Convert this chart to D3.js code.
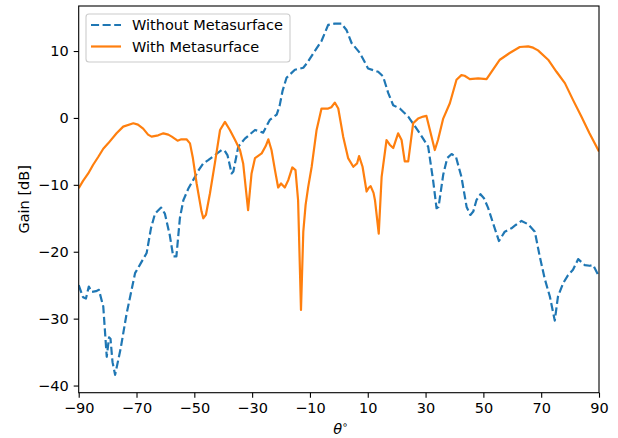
<!DOCTYPE html>
<html>
<head>
<meta charset="utf-8">
<script src="https://cdn.jsdelivr.net/npm/d3@7"></script>
<style>
  body { margin: 0; background: #fff; }
  svg { display: block; font-family: "DejaVu Sans", sans-serif; }
</style>
</head>
<body>
<svg id="chart" width="618" height="438"></svg>
<script>
// gain patterns (theta in degrees, gain in dB)
var withoutTheta = [-90, -88.5, -87.5, -86.5, -85.5, -84, -83, -81.5, -80.3, -79.5, -79, -78.3, -77.4, -75.5, -73.4,
  -70.5, -68.5, -66.5, -65, -63.6, -61.5, -60.2, -58.5, -57.3, -56.2, -55, -53.8, -52, -50.4, -48.5, -46.9,
  -45.2, -43, -40.6, -39.5, -38.5, -37.1, -36.5, -34.8, -32.5, -29, -27.5, -26.2, -25, -23.9, -21.5, -20.5,
  -19.5, -18.1, -16.9, -15.2, -12.3, -11, -8.9, -6, -3.7, -1.4, 0.9, 2.7, 4.4, 7.3, 10.1, 13.6, 15.3, 17.1,
  18.8, 21.1, 24, 28, 30.9, 32.6, 33.8, 34.5, 36.1, 37.5, 39, 40.5, 42.4, 44.2, 45.5, 46.5, 47.6, 49, 50.2,
  51.6, 53.4, 55.4, 57.4, 59.7, 61.2, 63.2, 65.5, 67.8, 69.5, 71.2, 73, 74.7, 75.8, 77.6, 79.3, 81, 82.8,
  85.1, 86.8, 88, 90];
var withoutGain = [-25.0, -26.8, -27.0, -25.2, -26.0, -25.9, -25.7, -28.2, -35.7, -32.8, -33.0, -36.5, -38.4, -34.5, -29.2,
  -23.2, -21.7, -20.2, -16.5, -14.3, -13.4, -14.3, -17.5, -20.7, -20.7, -15.0, -12.3, -10.5, -9.3, -7.8, -6.8,
  -6.3, -5.6, -4.8, -4.9, -5.6, -8.3, -8.0, -4.3, -3.1, -1.8, -2.0, -2.2, -1.2, -0.3, 0.5, 1.8,
  4.0, 6.0, 6.5, 7.2, 7.5, 8.2, 9.6, 11.5, 13.9, 14.1, 14.1, 13.1, 11.2, 9.7, 7.4, 6.9, 6.2, 3.7,
  1.9, 1.4, 0.2, -2.3, -4.3, -9.3, -13.5, -13.3, -8.5, -6.0, -5.4, -5.8, -8.8, -13.3, -14.5, -14.0, -12.3, -11.4, -12.0,
  -13.4, -15.8, -18.4, -17.0, -16.5, -16.0, -15.4, -15.9, -17.0, -20.7, -24.0, -26.7, -30.3, -26.7, -24.7, -23.5, -22.7, -21.1,
  -22.0, -22.1, -22.0, -23.7];

var withTheta = [-90, -88.5, -86.7, -85, -83.2, -81.5, -79.8, -76.9, -74.6, -71.1, -69.5, -67.7, -66, -64.8, -62.5,
  -60.7, -59, -57.8, -55.8, -54.5, -52.7, -51.5, -50.5, -49.2, -47.5, -46.9, -46, -44.6, -42.9, -41.1, -39.4,
  -37.7, -35.9, -34.2, -33.1, -32.2, -31.4, -30.2, -29, -26.7, -25.3, -24.4, -23.3, -22.1, -21, -20, -18.7,
  -17.5, -16.1, -15, -14.1, -13.1, -12.3, -11.5, -10.6, -9.4, -7.7, -6, -3.7, -2.6, -1.4, -0.2, 1.5, 3.2,
  5, 6.3, 7, 8.2, 9.6, 10.4, 11, 12, 12.5, 13.8, 14.8, 16.5, 17.6, 18.8, 20.5, 21.7, 22.8, 24, 25.7, 27.4,
  29.2, 30.3, 31.5, 33.2, 34.3, 36.1, 38.4, 40.7, 42.4, 43.5, 45.3, 48.2, 51.1, 52.8, 55.7, 59.1, 62.6, 65.5,
  67.2, 68.9, 72.4, 75.3, 78.2, 81, 83.9, 86.7, 90];
var withGain = [-10.5, -9.4, -8.3, -7.0, -5.8, -4.6, -3.8, -2.3, -1.3, -0.8, -1.0, -1.6, -2.5, -2.8, -2.6,
  -2.3, -2.5, -2.8, -3.4, -3.2, -3.2, -3.8, -6.0, -9.8, -14.0, -15.0, -14.5, -11.3, -6.8, -1.8, -0.6,
  -1.8, -3.3, -4.8, -6.8, -10.5, -13.8, -8.3, -6.0, -5.3, -4.2, -3.2, -4.8, -7.8, -10.4, -9.8, -10.4,
  -9.3, -7.4, -7.8, -12.3, -28.7, -17.0, -13.0, -10.3, -7.3, -1.8, 1.4, 1.4, 1.6, 2.3, 1.4, -2.8, -6.0,
  -7.3, -6.8, -5.7, -7.3, -11.0, -10.4, -10.2, -11.2, -12.3, -17.3, -8.8, -3.3, -4.0, -4.5, -2.3, -3.3, -6.5, -6.5, -0.8, -0.1,
  0.2, 0.3, -1.8, -4.8, -3.3, -0.1, 2.2, 5.7, 6.4, 6.3, 5.8, 5.9, 5.8, 6.9, 8.7, 9.7, 10.6, 10.7,
  10.5, 10.1, 8.7, 6.9, 5.2, 2.7, 0.2, -2.3, -5.0];

var xTicks = [-90, -70, -50, -30, -10, 10, 30, 50, 70, 90];
var yTicks = [-40, -30, -20, -10, 0, 10];
var seriesNames = ["Without Metasurface", "With Metasurface"];
var colors = ["#1f77b4", "#ff7f0e"];

var W = 618, H = 438;
var margin = {top: 6, right: 19, bottom: 45.3, left: 78.7};
var fs = 14.5;

var svg = d3.select("#chart");
var x = d3.scaleLinear().domain([-90, 90]).range([margin.left, W - margin.right]);
var y = d3.scaleLinear().domain([-41.07, 16.73]).range([H - margin.bottom, margin.top]);

var fmt = function(d) { return d < 0 ? "\u2212" + Math.abs(d) : String(d); };

// axes
var xAxis = svg.append("g")
    .attr("transform", "translate(0," + (H - margin.bottom) + ")")
    .call(d3.axisBottom(x).tickValues(xTicks).tickFormat(fmt).tickSize(5).tickPadding(5));
var yAxis = svg.append("g")
    .attr("transform", "translate(" + margin.left + ",0)")
    .call(d3.axisLeft(y).tickValues(yTicks).tickFormat(fmt).tickSize(5).tickPadding(5));
[xAxis, yAxis].forEach(function(g) {
  g.select(".domain").remove();
  g.selectAll(".tick line").attr("stroke", "#000").attr("stroke-width", 1.1);
  g.selectAll(".tick text").attr("fill", "#000").style("font-size", fs + "px")
    .style("font-family", "DejaVu Sans");
});

// data lines
var clip = svg.append("clipPath").attr("id", "clip").append("rect")
    .attr("x", margin.left).attr("y", margin.top)
    .attr("width", W - margin.left - margin.right).attr("height", H - margin.top - margin.bottom);

var line = d3.line()
    .x(function(d) { return x(d[0]); })
    .y(function(d) { return y(d[1]); });

var series = [d3.zip(withoutTheta, withoutGain), d3.zip(withTheta, withGain)];

svg.append("g").attr("clip-path", "url(#clip)")
  .selectAll("path")
  .data(series)
  .enter().append("path")
    .attr("d", line)
    .attr("fill", "none")
    .attr("stroke", function(d, i) { return colors[i]; })
    .attr("stroke-width", 2.2)
    .attr("stroke-linejoin", "round")
    .attr("stroke-dasharray", function(d, i) { return i === 0 ? "8.1,3.5" : null; });

// frame
svg.append("rect")
    .attr("x", margin.left).attr("y", margin.top)
    .attr("width", W - margin.left - margin.right).attr("height", H - margin.top - margin.bottom)
    .attr("fill", "none").attr("stroke", "#000").attr("stroke-width", 1.1);

// axis labels
svg.append("text")
    .attr("transform", "translate(24," + ((margin.top + H - margin.bottom) / 2) + ") rotate(-90)")
    .attr("text-anchor", "middle").attr("dy", "0.35em")
    .style("font-size", fs + "px")
    .text("Gain [dB]");

var xl = svg.append("text")
    .attr("x", (margin.left + W - margin.right) / 2 + 2).attr("y", 434)
    .attr("text-anchor", "middle")
    .style("font-size", fs + "px");
xl.append("tspan").style("font-style", "italic").text("\u03b8");
xl.append("tspan").attr("dy", -6).style("font-size", (fs * 0.7) + "px").text("\u2218");

// legend
var leg = svg.append("g");
leg.append("rect")
    .attr("x", 86).attr("y", 14).attr("width", 204).attr("height", 48).attr("rx", 3)
    .attr("fill", "#fff").attr("fill-opacity", 0.8)
    .attr("stroke", "#ccc").attr("stroke-width", 1.1);
seriesNames.forEach(function(name, i) {
  var cy = 25 + i * 21.5;
  leg.append("line")
      .attr("x1", 91).attr("x2", 121).attr("y1", cy).attr("y2", cy)
      .attr("stroke", colors[i]).attr("stroke-width", 2.2)
      .attr("stroke-dasharray", i === 0 ? "8.1,3.5" : null);
  leg.append("text")
      .attr("x", 132).attr("y", cy).attr("dy", "0.36em")
      .style("font-size", fs + "px")
      .text(name);
});
</script>
</body>
</html>
